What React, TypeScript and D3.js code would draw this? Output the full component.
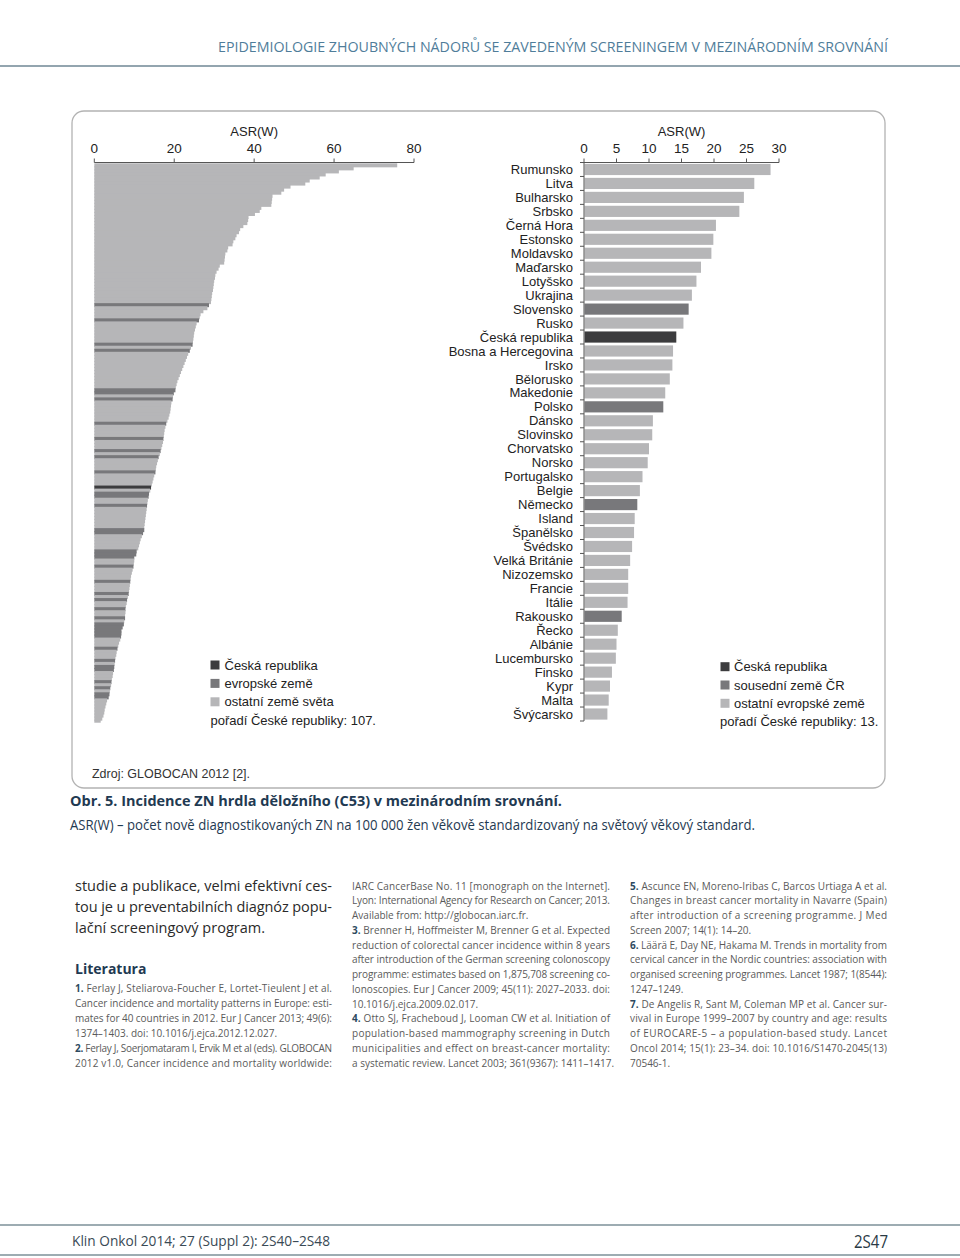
import React from 'react';
import * as d3 from 'd3';

// ---------- DATA ----------
const europeCountries = [
  'Rumunsko', 'Litva', 'Bulharsko', 'Srbsko', 'Černá Hora', 'Estonsko', 'Moldavsko', 'Maďarsko',
  'Lotyšsko', 'Ukrajina', 'Slovensko', 'Rusko', 'Česká republika', 'Bosna a Hercegovina', 'Irsko',
  'Bělorusko', 'Makedonie', 'Polsko', 'Dánsko', 'Slovinsko', 'Chorvatsko', 'Norsko', 'Portugalsko',
  'Belgie', 'Německo', 'Island', 'Španělsko', 'Švédsko', 'Velká Británie', 'Nizozemsko', 'Francie',
  'Itálie', 'Rakousko', 'Řecko', 'Albánie', 'Lucembursko', 'Finsko', 'Kypr', 'Malta', 'Švýcarsko',
];
const europeValues = [
  28.7, 26.2, 24.6, 23.9, 20.3, 19.9, 19.6, 18.0, 17.3, 16.6, 16.1, 15.3, 14.2, 13.7, 13.6, 13.2,
  12.5, 12.2, 10.6, 10.5, 10.0, 9.8, 9.0, 8.6, 8.2, 7.8, 7.7, 7.4, 7.1, 6.8, 6.8, 6.7, 5.8, 5.2,
  5.0, 4.9, 4.3, 4.0, 3.8, 3.6,
];
const europeNeighbours = ['Slovensko', 'Polsko', 'Německo', 'Rakousko'];
const czName = 'Česká republika';

const worldValues = [
  75.8, 64.9, 61.2, 57.9, 56.4, 53.9, 52.8, 49.1, 47.5, 46.8,
  44.6, 44.5, 44.4, 44.3, 41.8, 41.4, 40.2, 38.6, 38.5, 38.3,
  37.3, 36.5, 36.2, 35.6, 35.3, 34.8, 34.6, 33.5, 33.3, 32.8,
  32.7, 32.6, 32.5, 31.4, 31.1, 30.6, 30.3, 30.2, 30.0, 29.9,
  29.8, 29.7, 29.5, 29.4, 29.3, 29.2, 28.7, 28.3, 27.3, 26.6,
  26.4, 26.2, 25.6, 25.4, 25.2, 25.0, 24.9, 24.8, 24.7, 24.6,
  24.2, 23.9, 23.5, 23.2, 22.9, 22.6, 22.3, 22.0, 21.7, 21.4,
  21.1, 20.8, 20.6, 20.4, 20.3, 19.9, 19.7, 19.6, 19.3, 19.2,
  19.1, 19.0, 18.8, 18.6, 18.3, 18.0, 17.8, 17.6, 17.5, 17.4,
  17.3, 17.2, 17.0, 16.8, 16.6, 16.4, 16.1, 15.9, 15.7, 15.5,
  15.4, 15.3, 15.0, 14.8, 14.6, 14.4, 14.2, 14.0, 13.7, 13.6,
  13.4, 13.3, 13.2, 13.1, 13.0, 12.9, 12.8, 12.7, 12.6, 12.5,
  12.5, 12.2, 11.9, 11.6, 11.4, 11.2, 11.0, 10.6, 10.5, 10.0,
  10.0, 9.9, 9.8, 9.6, 9.4, 9.2, 9.1, 9.0, 8.9, 8.8,
  8.7, 8.6, 8.4, 8.2, 8.1, 7.9, 7.8, 7.8, 7.7, 7.7,
  7.5, 7.4, 7.1, 6.8, 6.8, 6.7, 6.5, 6.2, 6.0, 5.8,
  5.6, 5.5, 5.3, 5.2, 5.1, 5.0, 4.9, 4.7, 4.6, 4.4,
  4.3, 4.2, 4.0, 3.9, 3.8, 3.6, 3.2, 3.0, 2.8, 2.6,
  2.5, 2.3, 2.0, 1.6,
];
const worldEuropeRanks = [
  47, 52, 60, 62, 75, 76, 78, 86, 91, 95, 97, 102, 109, 110, 113, 121, 122, 128, 129, 130,
  133, 138, 142, 144, 147, 150, 152, 153, 154, 155, 156, 160, 164, 166, 167, 171, 173, 175, 176,
];
const worldCzRank = 107;

const worldTicks = [0, 20, 40, 60, 80];
const europeTicks = [0, 5, 10, 15, 20, 25, 30];
const axisTitle = 'ASR(W)';
const legendWorld = ['Česká republika', 'evropské země', 'ostatní země světa'];
const legendEurope = ['Česká republika', 'sousední země ČR', 'ostatní evropské země'];
const rankWorld = 'pořadí České republiky: 107.';
const rankEurope = 'pořadí České republiky: 13.';

const headerText = 'EPIDEMIOLOGIE ZHOUBNÝCH NÁDORŮ SE ZAVEDENÝM SCREENINGEM V MEZINÁRODNÍM SROVNÁNÍ';
const sourceText = 'Zdroj: GLOBOCAN 2012 [2].';
const captionTitle = 'Obr. 5. Incidence ZN hrdla děložního (C53) v mezinárodním srovnání.';
const captionText = 'ASR(W) – počet nově diagnostikovaných ZN na 100 000 žen věkově standardizovaný na světový věkový standard.';
const bodyLines = [
  ['studie a publikace, velmi efektivní ces-', 1],
  ['tou je u preventabilních diagnóz popu-', 1],
  ['lační screeningový program.', 0],
];
const literatureTitle = 'Literatura';
// [number, text, justified]
const refCol1 = [
  ['1.', ' Ferlay J, Steliarova-Foucher E, Lortet-Tieulent J et al.', 1],
  ['', 'Cancer incidence and mortality patterns in Europe: esti-', 1],
  ['', 'mates for 40 countries in 2012. Eur J Cancer 2013; 49(6):', 1],
  ['', '1374–1403. doi: 10.1016/j.ejca.2012.12.027.', 0],
  ['2.', ' Ferlay J, Soerjomataram I, Ervik M et al (eds). GLOBOCAN', 1],
  ['', '2012 v1.0, Cancer incidence and mortality worldwide:', 1],
];
const refCol2 = [
  ['', 'IARC CancerBase No. 11 [monograph on the Internet].', 1],
  ['', 'Lyon: International Agency for Research on Cancer; 2013.', 1],
  ['', 'Available from: http://globocan.iarc.fr.', 0],
  ['3.', ' Brenner H, Hoffmeister M, Brenner G et al. Expected', 1],
  ['', 'reduction of colorectal cancer incidence within 8 years', 1],
  ['', 'after introduction of the German screening colonoscopy', 1],
  ['', 'programme: estimates based on 1,875,708 screening co-', 1],
  ['', 'lonoscopies. Eur J Cancer 2009; 45(11): 2027–2033. doi:', 1],
  ['', '10.1016/j.ejca.2009.02.017.', 0],
  ['4.', ' Otto SJ, Fracheboud J, Looman CW et al. Initiation of', 1],
  ['', 'population-based mammography screening in Dutch', 1],
  ['', 'municipalities and effect on breast-cancer mortality:', 1],
  ['', 'a systematic review. Lancet 2003; 361(9367): 1411–1417.', 0],
];
const refCol3 = [
  ['5.', ' Ascunce EN, Moreno-Iribas C, Barcos Urtiaga A et al.', 1],
  ['', 'Changes in breast cancer mortality in Navarre (Spain)', 1],
  ['', 'after introduction of a screening programme. J Med', 1],
  ['', 'Screen 2007; 14(1): 14–20.', 0],
  ['6.', ' Läärä E, Day NE, Hakama M. Trends in mortality from', 1],
  ['', 'cervical cancer in the Nordic countries: association with', 1],
  ['', 'organised screening programmes. Lancet 1987; 1(8544):', 1],
  ['', '1247–1249.', 0],
  ['7.', ' De Angelis R, Sant M, Coleman MP et al. Cancer sur-', 1],
  ['', 'vival in Europe 1999–2007 by country and age: results', 1],
  ['', 'of EUROCARE-5 – a population-based study. Lancet', 1],
  ['', 'Oncol 2014; 15(1): 23–34. doi: 10.1016/S1470-2045(13)', 1],
  ['', '70546-1.', 0],
];
const footerLeft = 'Klin Onkol 2014; 27 (Suppl 2): 2S40–2S48';
const footerRight = '2S47';

// ---------- STYLE ----------
const C_DARK = '#3c3c3e';
const C_MID = '#78787b';
const C_LIGHT = '#b6b6b8';
const CHART_FONT = '"Liberation Sans", Arial, Helvetica, sans-serif';
const BODY_FONT = '"Open Sans", "Noto Sans", sans-serif';

export default function App() {
  const W = 960;
  const H = 1258;

  // left (world) chart
  const worldRanks = worldValues.map((_, i) => i + 1);
  const xW = d3.scaleLinear().domain([0, 80]).range([94.3, 414]);
  const yW = d3.scaleBand<number>().domain(worldRanks).range([163.3, 722.7]).padding(0);
  const worldColor = (r: number) =>
    r === worldCzRank ? C_DARK : worldEuropeRanks.includes(r) ? C_MID : C_LIGHT;

  // right (Europe) chart
  const xE = d3.scaleLinear().domain([0, 30]).range([584, 779]);
  const yE = d3
    .scaleBand<string>()
    .domain(europeCountries)
    .range([162.5, 721])
    .paddingInner(0.2)
    .paddingOuter(0.1);
  const europeColor = (c: string) =>
    c === czName ? C_DARK : europeNeighbours.includes(c) ? C_MID : C_LIGHT;
  const stepE = yE.step();
  const boundaries = europeCountries.map((c) => (yE(c) as number) - stepE * 0.1).concat([721]);

  const axisY = 162.5;

  const refLine = (
    rows: (string | number)[][],
    x: number,
    y0: number,
    step: number,
    width: number,
    key: string,
  ) =>
    rows.map((r, i) => {
      const [num, txt, just] = r as [string, string, number];
      return (
        <text
          key={key + i}
          x={x}
          y={y0 + i * step}
          fontFamily={BODY_FONT}
          fontSize={10}
          fill="#5a5a5a"
          textLength={just ? width : undefined}
          lengthAdjust="spacing"
        >
          {num ? (
            <tspan fontWeight="bold" fill="#2d4a60">
              {num}
            </tspan>
          ) : null}
          {txt}
        </text>
      );
    });

  const last = worldRanks.length - 1;

  return (
    <svg
      width={W}
      height={H}
      viewBox={`0 0 ${W} ${H}`}
      style={{ position: 'absolute', left: 0, top: 0, background: '#fff' }}
    >
      <rect x={0} y={0} width={W} height={H} fill="#fff" />

      {/* header */}
      <text
        x={218}
        y={52}
        fontFamily={BODY_FONT}
        fontSize={15}
        fill="#4f7d9a"
        textLength={670}
        lengthAdjust="spacingAndGlyphs"
      >
        {headerText}
      </text>
      <line x1={0} x2={W} y1={66} y2={66} stroke="#6f8794" strokeWidth={1.5} />

      {/* frame */}
      <rect x={72} y={111} width={813} height={677} rx={12} ry={12} fill="none" stroke="#b3b3b3" strokeWidth={1.3} />

      {/* ---- world chart ---- */}
      <g fontFamily={CHART_FONT} fill="#222">
        <text x={(xW(0) + xW(80)) / 2} y={135.5} textAnchor="middle" fontSize={13}>
          {axisTitle}
        </text>
        {worldTicks.map((t) => (
          <text key={'wt' + t} x={xW(t)} y={152.5} textAnchor="middle" fontSize={13.5}>
            {t}
          </text>
        ))}
      </g>
      {worldRanks.map((r, i) => (
        <rect
          key={'wb' + r}
          x={xW(0)}
          y={yW(r) as number}
          width={xW(worldValues[i]) - xW(0)}
          height={yW.bandwidth() + (i === last ? 0 : 1)}
          fill={worldColor(r)}
        />
      ))}
      <line x1={xW(0)} x2={xW(80)} y1={axisY} y2={axisY} stroke="#555" strokeWidth={1} />
      {worldTicks.map((t) => (
        <line key={'wtk' + t} x1={xW(t)} x2={xW(t)} y1={axisY} y2={axisY - 4} stroke="#555" strokeWidth={1} />
      ))}

      {/* world legend */}
      <g fontFamily={CHART_FONT} fontSize={13} fill="#222">
        {legendWorld.map((l, i) => (
          <g key={'lw' + i}>
            <rect x={210.5} y={665 + i * 18.4 - 4.5} width={9} height={9} fill={[C_DARK, C_MID, C_LIGHT][i]} />
            <text x={224.5} y={665 + i * 18.4 + 4.6}>
              {l}
            </text>
          </g>
        ))}
        <text x={210.5} y={720 + 4.6}>
          {rankWorld}
        </text>
      </g>

      {/* ---- Europe chart ---- */}
      <g fontFamily={CHART_FONT} fill="#222">
        <text x={(xE(0) + xE(30)) / 2} y={135.5} textAnchor="middle" fontSize={13}>
          {axisTitle}
        </text>
        {europeTicks.map((t) => (
          <text key={'et' + t} x={xE(t)} y={152.5} textAnchor="middle" fontSize={13.5}>
            {t}
          </text>
        ))}
        {europeCountries.map((c) => (
          <text
            key={'el' + c}
            x={573}
            y={(yE(c) as number) + yE.bandwidth() / 2 + 4.6}
            textAnchor="end"
            fontSize={13}
          >
            {c}
          </text>
        ))}
      </g>
      {europeCountries.map((c, i) => (
        <rect
          key={'eb' + c}
          x={xE(0) + 0.5}
          y={yE(c) as number}
          width={xE(europeValues[i]) - xE(0) - 0.5}
          height={yE.bandwidth()}
          fill={europeColor(c)}
        />
      ))}
      <line x1={xE(0)} x2={xE(30)} y1={axisY} y2={axisY} stroke="#555" strokeWidth={1} />
      {europeTicks.map((t) => (
        <line key={'etk' + t} x1={xE(t)} x2={xE(t)} y1={axisY} y2={axisY - 4} stroke="#555" strokeWidth={1} />
      ))}
      <line x1={xE(0)} x2={xE(0)} y1={axisY} y2={721} stroke="#555" strokeWidth={1} />
      {boundaries.map((b, i) => (
        <line key={'eyt' + i} x1={xE(0) - 4} x2={xE(0)} y1={b} y2={b} stroke="#555" strokeWidth={1} />
      ))}

      {/* Europe legend */}
      <g fontFamily={CHART_FONT} fontSize={13} fill="#222">
        {legendEurope.map((l, i) => (
          <g key={'le' + i}>
            <rect x={720.5} y={666.7 + i * 18.3 - 4.5} width={9} height={9} fill={[C_DARK, C_MID, C_LIGHT][i]} />
            <text x={734} y={666.7 + i * 18.3 + 4.6}>
              {l}
            </text>
          </g>
        ))}
        <text x={720} y={721.7 + 4.6}>
          {rankEurope}
        </text>
      </g>

      {/* source */}
      <text x={92} y={777.5} fontFamily={CHART_FONT} fontSize={12.5} fill="#333" textLength={158} lengthAdjust="spacingAndGlyphs">
        {sourceText}
      </text>

      {/* caption */}
      <text x={70} y={806} fontFamily={BODY_FONT} fontSize={14} fontWeight="bold" fill="#1f3a52" textLength={492} lengthAdjust="spacingAndGlyphs">
        {captionTitle}
      </text>
      <text x={70} y={830} fontFamily={BODY_FONT} fontSize={14} fill="#1f3a52" textLength={685} lengthAdjust="spacingAndGlyphs">
        {captionText}
      </text>

      {/* body text col 1 */}
      {bodyLines.map((r, i) => (
        <text
          key={'bl' + i}
          x={75}
          y={891 + i * 21}
          fontFamily={BODY_FONT}
          fontSize={14.5}
          fill="#2a2a2a"
          textLength={r[1] ? 257 : undefined}
          lengthAdjust="spacing"
        >
          {r[0] as string}
        </text>
      ))}
      <text x={75} y={974} fontFamily={BODY_FONT} fontSize={14} fontWeight="bold" fill="#1f3a52">
        {literatureTitle}
      </text>
      {refLine(refCol1, 75, 991.5, 15, 257, 'r1')}
      {refLine(refCol2, 352, 889.5, 14.75, 258, 'r2')}
      {refLine(refCol3, 630, 889.5, 14.75, 257, 'r3')}

      {/* footer */}
      <line x1={0} x2={W} y1={1225} y2={1225} stroke="#7d9099" strokeWidth={1.5} />
      <line x1={0} x2={W} y1={1255} y2={1255} stroke="#7d9099" strokeWidth={1.5} />
      <text x={72} y={1246} fontFamily={BODY_FONT} fontSize={14} fill="#3a4a55" textLength={258} lengthAdjust="spacingAndGlyphs">
        {footerLeft}
      </text>
      <text x={888} y={1248} textAnchor="end" fontFamily={BODY_FONT} fontSize={19} fill="#2a3a45" textLength={34} lengthAdjust="spacingAndGlyphs">
        {footerRight}
      </text>
    </svg>
  );
}
